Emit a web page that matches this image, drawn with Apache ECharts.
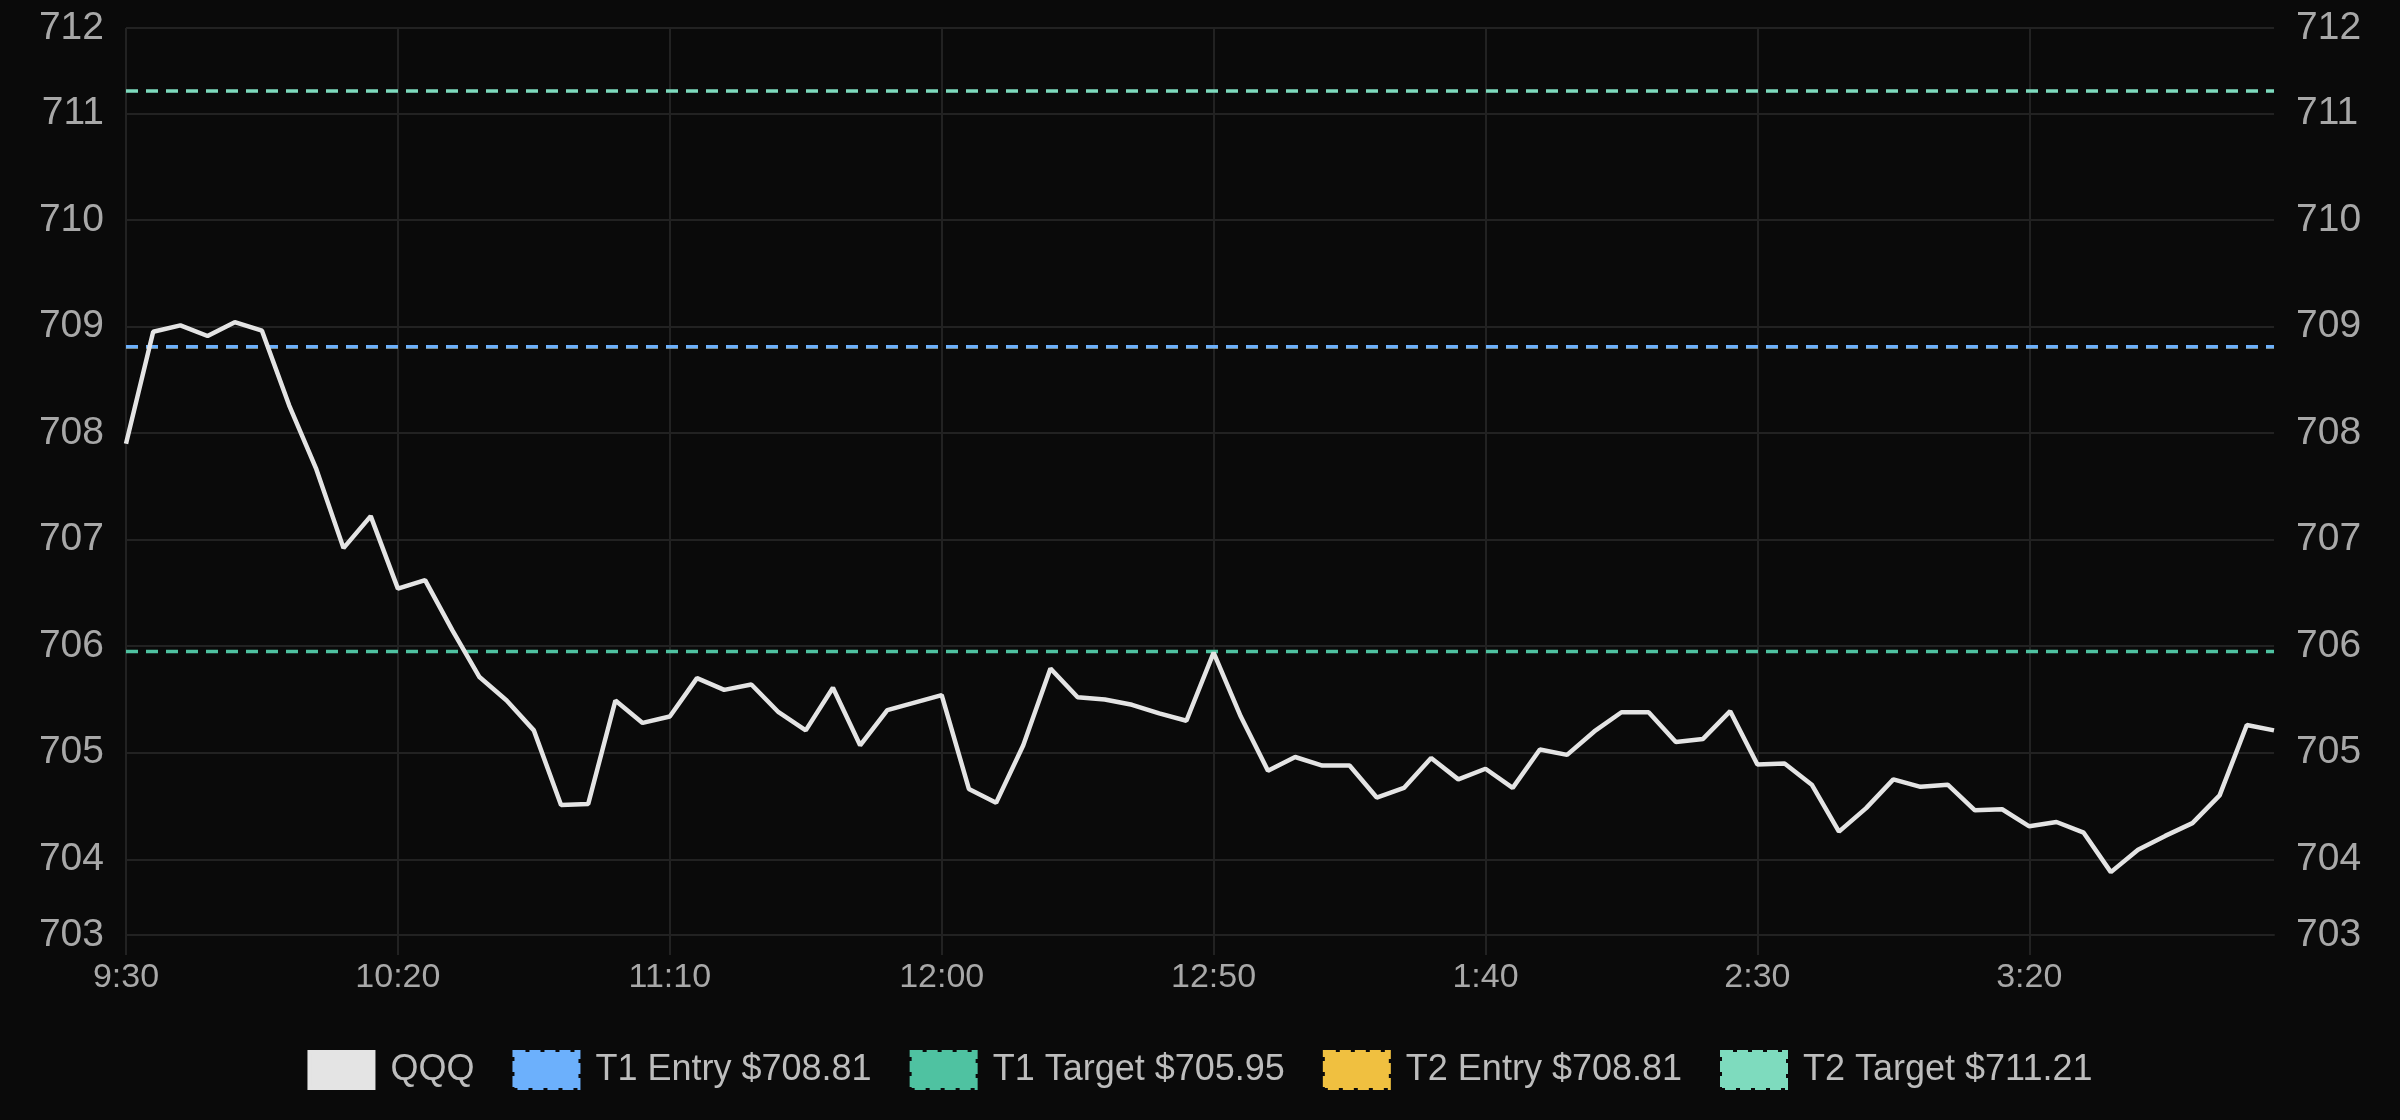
<!DOCTYPE html>
<html>
<head>
<meta charset="utf-8">
<script src="https://cdn.jsdelivr.net/npm/echarts@6/dist/echarts.min.js"></script>
<style>
  html, body { margin: 0; padding: 0; background: #0a0a0a; }
  #chart { width: 2400px; height: 1120px; }
</style>
</head>
<body>
<div id="chart"></div>
<script>
// ---- data ----
const times = [
  "9:30","9:35","9:40","9:45","9:50","9:55","10:00","10:05","10:10","10:15",
  "10:20","10:25","10:30","10:35","10:40","10:45","10:50","10:55","11:00","11:05",
  "11:10","11:15","11:20","11:25","11:30","11:35","11:40","11:45","11:50","11:55",
  "12:00","12:05","12:10","12:15","12:20","12:25","12:30","12:35","12:40","12:45",
  "12:50","12:55","1:00","1:05","1:10","1:15","1:20","1:25","1:30","1:35",
  "1:40","1:45","1:50","1:55","2:00","2:05","2:10","2:15","2:20","2:25",
  "2:30","2:35","2:40","2:45","2:50","2:55","3:00","3:05","3:10","3:15",
  "3:20","3:25","3:30","3:35","3:40","3:45","3:50","3:55","4:00","4:05"
];
const qqqPrices = [
  707.90, 708.95, 709.01, 708.91, 709.04, 708.96, 708.26, 707.66, 706.92, 707.22,
  706.54, 706.62, 706.15, 705.71, 705.49, 705.21, 704.51, 704.52, 705.49, 705.28,
  705.34, 705.70, 705.59, 705.64, 705.38, 705.21, 705.61, 705.07, 705.40, 705.47,
  705.54, 704.66, 704.53, 705.07, 705.79, 705.52, 705.50, 705.45, 705.37, 705.30,
  705.94, 705.34, 704.83, 704.96, 704.88, 704.88, 704.58, 704.67, 704.95, 704.75,
  704.85, 704.67, 705.03, 704.98, 705.20, 705.38, 705.38, 705.10, 705.13, 705.39,
  704.89, 704.90, 704.70, 704.26, 704.48, 704.75, 704.68, 704.70, 704.46, 704.47,
  704.31, 704.35, 704.25, 703.88, 704.09, 704.22, 704.34, 704.60, 705.26, 705.21
];
const levelNames  = ["T1 Entry $708.81", "T1 Target $705.95", "T2 Entry $708.81", "T2 Target $711.21"];
const levelValues = [708.81, 705.95, 708.81, 711.21];
const levelColors = ["#6cb0fc", "#4fc2a1", "#f0c040", "#7edbbe"];
const qqqColor = "#e4e4e4";
const yBounds = [703.29, 711.80];

// ---- chart ----
const FONT = "Liberation Sans";
const GRID = "#222222";
const chart = echarts.init(document.getElementById("chart"), null, { renderer: "canvas" });

const levelSeries = levelNames.map((name, i) => ({
  name: name,
  type: "line",
  data: [[times[0], levelValues[i]], [times[times.length - 1], levelValues[i]]],
  symbol: "none",
  showSymbol: false,
  silent: true,
  z: name.startsWith("T2 Entry") ? 2 : 3,
  lineStyle: { color: levelColors[i], width: 3.5, type: [12, 8] },
  itemStyle: { color: levelColors[i] }
}));

const legendData = [{
  name: "QQQ",
  itemStyle: { color: qqqColor, borderColor: qqqColor, borderWidth: 4, borderType: "solid" }
}].concat(levelNames.map((name, i) => ({
  name: name,
  itemStyle: { color: levelColors[i], borderColor: levelColors[i], borderWidth: 4, borderType: [11, 4] }
})));

const yAxisCommon = {
  type: "value",
  min: yBounds[0],
  max: yBounds[1],
  splitNumber: 9,
  minInterval: 1,
  maxInterval: 1,
  axisLine: { show: false },
  axisTick: { show: false },
  axisLabel: {
    color: "#a8a8a8",
    fontSize: 39,
    fontFamily: FONT,
    margin: 22,
    padding: [12, 0, 0, 0],
    formatter: v => String(Math.round(v))
  }
};

chart.setOption({
  animation: false,
  backgroundColor: "#0a0a0a",
  grid: { left: 126, right: 126, top: 28, bottom: 185, containLabel: false },
  legend: {
    bottom: 25,
    left: "center",
    icon: "rect",
    itemWidth: 64,
    itemHeight: 36,
    itemGap: 38,
    textStyle: { color: "#bdbdbd", fontSize: 36, fontFamily: FONT, padding: [0, 0, 0, 12] },
    data: legendData
  },
  xAxis: {
    type: "category",
    data: times,
    boundaryGap: false,
    axisLine: { show: true, lineStyle: { color: GRID, width: 2 } },
    axisTick: { show: true, length: 20, interval: 9, lineStyle: { color: GRID, width: 2 } },
    splitLine: { show: true, interval: 9, lineStyle: { color: GRID, width: 2 } },
    axisLabel: { interval: 9, color: "#a8a8a8", fontSize: 34, fontFamily: FONT, margin: 26 }
  },
  yAxis: [
    Object.assign({}, yAxisCommon, {
      position: "left",
      splitLine: { show: true, lineStyle: { color: GRID, width: 2 } }
    }),
    Object.assign({}, yAxisCommon, {
      position: "right",
      splitLine: { show: false }
    })
  ],
  series: [
    {
      name: "QQQ",
      type: "line",
      data: qqqPrices,
      symbol: "none",
      showSymbol: false,
      z: 4,
      lineStyle: { color: qqqColor, width: 4.5 },
      itemStyle: { color: qqqColor }
    }
  ].concat(levelSeries)
});
</script>
</body>
</html>
